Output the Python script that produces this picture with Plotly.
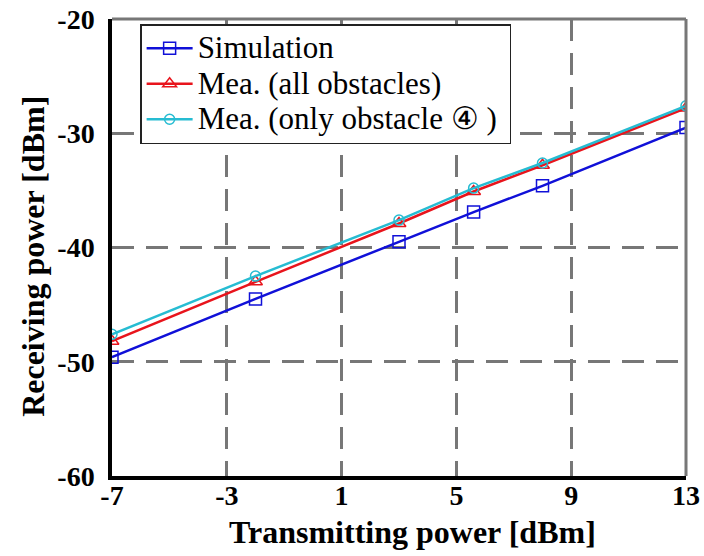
import plotly.graph_objects as go

# Transmitting power [dBm]
tx_power = [-7, -2, 3, 5.6, 8, 13]

# Receiving power [dBm]
rx_simulation = [-49.6, -44.5, -39.5, -36.9, -34.6, -29.5]
rx_all_obstacles = [-48.2, -43.0, -37.9, -35.1, -32.8, -27.8]
rx_only_obstacle4 = [-47.6, -42.5, -37.6, -34.8, -32.6, -27.6]

series_names = ["Simulation", "Mea. (all obstacles)", "Mea. (only obstacle \u2463 )"]

x_ticks = [-7, -3, 1, 5, 9, 13]
y_ticks = [-60, -50, -40, -30, -20]

SERIF = "Liberation Serif, Times New Roman, DejaVu Serif, serif"
GRID = "#777777"


def legend_label(text):
    # larger rendered text while keeping the legend's row pitch compact
    return '<span style="font-size:31px">' + text + "&nbsp;</span>"


fig = go.Figure()

fig.add_trace(go.Scatter(
    x=tx_power, y=rx_simulation, name=legend_label(series_names[0]), mode="lines+markers",
    line=dict(color="#1010d8", width=2.5),
    marker=dict(symbol="square-open", size=12, color="#1010d8", line=dict(width=1.5)),
))
fig.add_trace(go.Scatter(
    x=tx_power, y=rx_all_obstacles, name=legend_label(series_names[1]), mode="lines+markers",
    line=dict(color="#e8141c", width=2.5),
    marker=dict(symbol="triangle-up-open", size=12, color="#e8141c", line=dict(width=1.5)),
))
fig.add_trace(go.Scatter(
    x=tx_power, y=rx_only_obstacle4, name=legend_label(series_names[2]), mode="lines+markers",
    line=dict(color="#26bcd2", width=2.5),
    marker=dict(symbol="circle-open", size=10, color="#26bcd2", line=dict(width=1.5)),
))

# gray frame on the top and right edges
fig.add_shape(type="line", xref="paper", yref="paper", x0=0, x1=1, y0=1, y1=1,
              line=dict(color=GRID, width=3))
fig.add_shape(type="line", xref="paper", yref="paper", x0=1, x1=1, y0=0, y1=1,
              line=dict(color=GRID, width=3))

tick_font = dict(family=SERIF, size=28, color="black", weight="bold")
title_font = dict(family=SERIF, size=32, color="black", weight="bold")

fig.update_xaxes(
    range=[-7, 13], tickvals=x_ticks, ticktext=[str(v) for v in x_ticks],
    showgrid=True, gridcolor=GRID, gridwidth=3, griddash="22px,12px",
    showline=True, linecolor="black", linewidth=3.5, zeroline=False,
    ticks="", tickfont=tick_font, ticklabelstandoff=-8,
)
fig.update_yaxes(
    range=[-60, -20], tickvals=y_ticks, ticktext=[str(v) for v in y_ticks],
    showgrid=True, gridcolor=GRID, gridwidth=3, griddash="22px,12px",
    showline=True, linecolor="black", linewidth=3.5, zeroline=False,
    ticks="", tickfont=tick_font, ticklabelstandoff=8,
)

# axis titles
fig.add_annotation(text="Transmitting power [dBm]", xref="paper", yref="paper",
                   x=0.523, y=-0.1225, xanchor="center", yanchor="middle",
                   showarrow=False, font=title_font)
fig.add_annotation(text="Receiving power [dBm]", xref="paper", yref="paper",
                   x=-0.139, y=0.48, xanchor="center", yanchor="middle",
                   textangle=-90, showarrow=False, font=title_font)

fig.update_layout(
    width=704, height=556,
    margin=dict(l=112, r=18, t=19, b=80, autoexpand=False),
    paper_bgcolor="white", plot_bgcolor="white",
    showlegend=True,
    legend=dict(
        x=0.049, y=0.989, xanchor="left", yanchor="top",
        bgcolor="white", bordercolor="#222222", borderwidth=1.5,
        font=dict(family=SERIF, size=25, color="black"),
        itemwidth=46, tracegroupgap=0,
    ),
)

fig.write_html("out.html")
